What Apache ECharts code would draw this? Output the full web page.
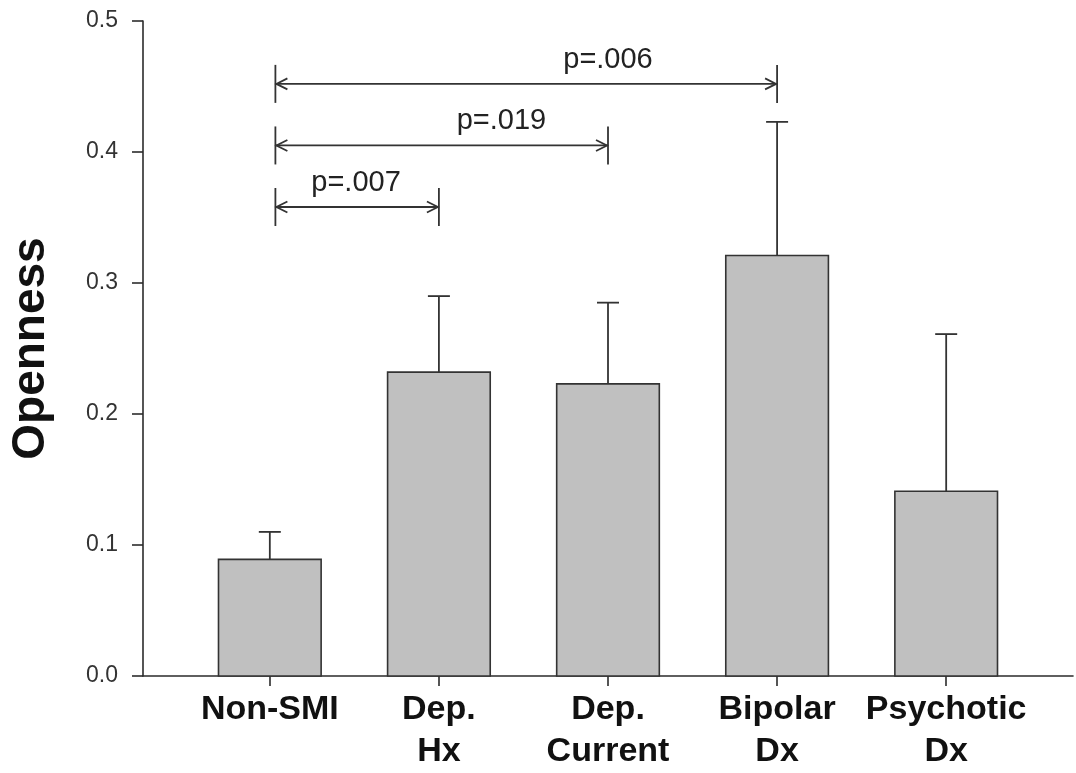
<!DOCTYPE html>
<html>
<head>
<meta charset="utf-8">
<script src="https://cdn.jsdelivr.net/npm/echarts@6/dist/echarts.min.js"></script>
<style>
html,body{margin:0;padding:0;background:#fff;}
#chart{width:1076px;height:773px;}
</style>
</head>
<body>
<div id="chart"></div>
<script>
// ---- data ----
const categories = ['Non-SMI', 'Dep.\nHx', 'Dep.\nCurrent', 'Bipolar\nDx', 'Psychotic\nDx'];
const means = [0.089, 0.232, 0.223, 0.321, 0.141];
const errors = [0.021, 0.058, 0.062, 0.102, 0.120];
const yTicks = [0.0, 0.1, 0.2, 0.3, 0.4, 0.5];
// comparisons: from category index, to category index, label
const compFrom = [0, 0, 0];
const compTo = [1, 2, 3];
const compLabels = ['p=.007', 'p=.019', 'p=.006'];
const compLevels = [0.358, 0.405, 0.452];
const compLabelX = [0.51, 1.37, 2.0];

const FONT = '"Liberation Sans", Arial, Helvetica, sans-serif';
const INK = '#2b2b2b';

const chart = echarts.init(document.getElementById('chart'), null, {renderer: 'canvas'});

const catIdx = categories.map((c, i) => i);

const option = {
  backgroundColor: '#ffffff',
  animation: false,
  grid: {left: 139, right: 3, top: 21, bottom: 97, containLabel: false},
  xAxis: {
    type: 'value',
    min: -0.75,
    max: 4.75,
    splitLine: {show: false},
    axisLine: {show: true, onZero: false, lineStyle: {color: INK, width: 1.6}},
    axisTick: {show: true, customValues: catIdx, length: 10, inside: false, lineStyle: {color: INK, width: 1.6}},
    axisLabel: {
      show: true,
      customValues: catIdx,
      formatter: v => categories[Math.round(v)],
      fontFamily: FONT,
      fontWeight: 'bold',
      fontSize: 34,
      lineHeight: 42,
      color: '#111',
      margin: 13,
      align: 'center'
    }
  },
  yAxis: {
    type: 'value',
    min: 0,
    max: 0.5,
    interval: 0.1,
    name: 'Openness',
    nameLocation: 'middle',
    nameRotate: 90,
    nameGap: 89,
    nameTextStyle: {fontFamily: FONT, fontWeight: 'bold', fontSize: 46, color: '#111'},
    splitLine: {show: false},
    axisLine: {show: true, onZero: false, lineStyle: {color: INK, width: 1.6}},
    axisTick: {show: true, length: 11, inside: false, lineStyle: {color: INK, width: 1.6}},
    axisLabel: {
      fontFamily: FONT,
      fontSize: 23,
      color: '#333',
      margin: 25,
      formatter: v => v.toFixed(1)
    }
  },
  series: [
    {
      // bars
      type: 'custom',
      data: means.map((m, i) => [i, m]),
      renderItem: function (params, api) {
        const i = api.value(0), m = api.value(1);
        const top = api.coord([i, m]);
        const base = api.coord([i, 0]);
        const w = api.size([0.607, 0])[0];
        return {
          type: 'rect',
          shape: {x: top[0] - w / 2, y: top[1], width: w, height: base[1] - top[1]},
          style: {fill: '#c0c0c0', stroke: '#333', lineWidth: 1.6}
        };
      },
      z: 2
    },
    {
      // error bars (upper only)
      type: 'custom',
      data: means.map((m, i) => [i, m, m + errors[i]]),
      renderItem: function (params, api) {
        const i = api.value(0);
        const p0 = api.coord([i, api.value(1)]);
        const p1 = api.coord([i, api.value(2)]);
        const cap = 11;
        const st = {stroke: '#333', lineWidth: 1.8};
        return {
          type: 'group',
          children: [
            {type: 'line', shape: {x1: p0[0], y1: p0[1], x2: p1[0], y2: p1[1]}, style: st},
            {type: 'line', shape: {x1: p1[0] - cap, y1: p1[1], x2: p1[0] + cap, y2: p1[1]}, style: st}
          ]
        };
      },
      z: 3
    },
    {
      // comparison brackets
      type: 'custom',
      data: compFrom.map((f, k) => [f + 0.033, compTo[k], compLevels[k], compLabelX[k], k]),
      renderItem: function (params, api) {
        const a = api.coord([api.value(0), api.value(2)]);
        const b = api.coord([api.value(1), api.value(2)]);
        const t = api.coord([api.value(3), api.value(2)]);
        const k = api.value(4);
        const h = 19, ah = 12, aw = 5.5;
        const st = {stroke: '#333', lineWidth: 1.8, fill: 'none'};
        return {
          type: 'group',
          children: [
            {type: 'line', shape: {x1: a[0], y1: a[1] - h, x2: a[0], y2: a[1] + h}, style: st},
            {type: 'line', shape: {x1: b[0], y1: b[1] - h, x2: b[0], y2: b[1] + h}, style: st},
            {type: 'line', shape: {x1: a[0], y1: a[1], x2: b[0], y2: b[1]}, style: st},
            {type: 'polyline', shape: {points: [[a[0] + ah, a[1] - aw], [a[0] + 1, a[1]], [a[0] + ah, a[1] + aw]]}, style: st},
            {type: 'polyline', shape: {points: [[b[0] - ah, b[1] - aw], [b[0] - 1, b[1]], [b[0] - ah, b[1] + aw]]}, style: st},
            {type: 'text', x: t[0], y: t[1] - 24,
              style: {text: compLabels[k], fontFamily: FONT, fontSize: 29, fill: '#222', align: 'center', verticalAlign: 'middle'}}
          ]
        };
      },
      z: 4
    }
  ]
};

chart.setOption(option);
</script>
</body>
</html>
